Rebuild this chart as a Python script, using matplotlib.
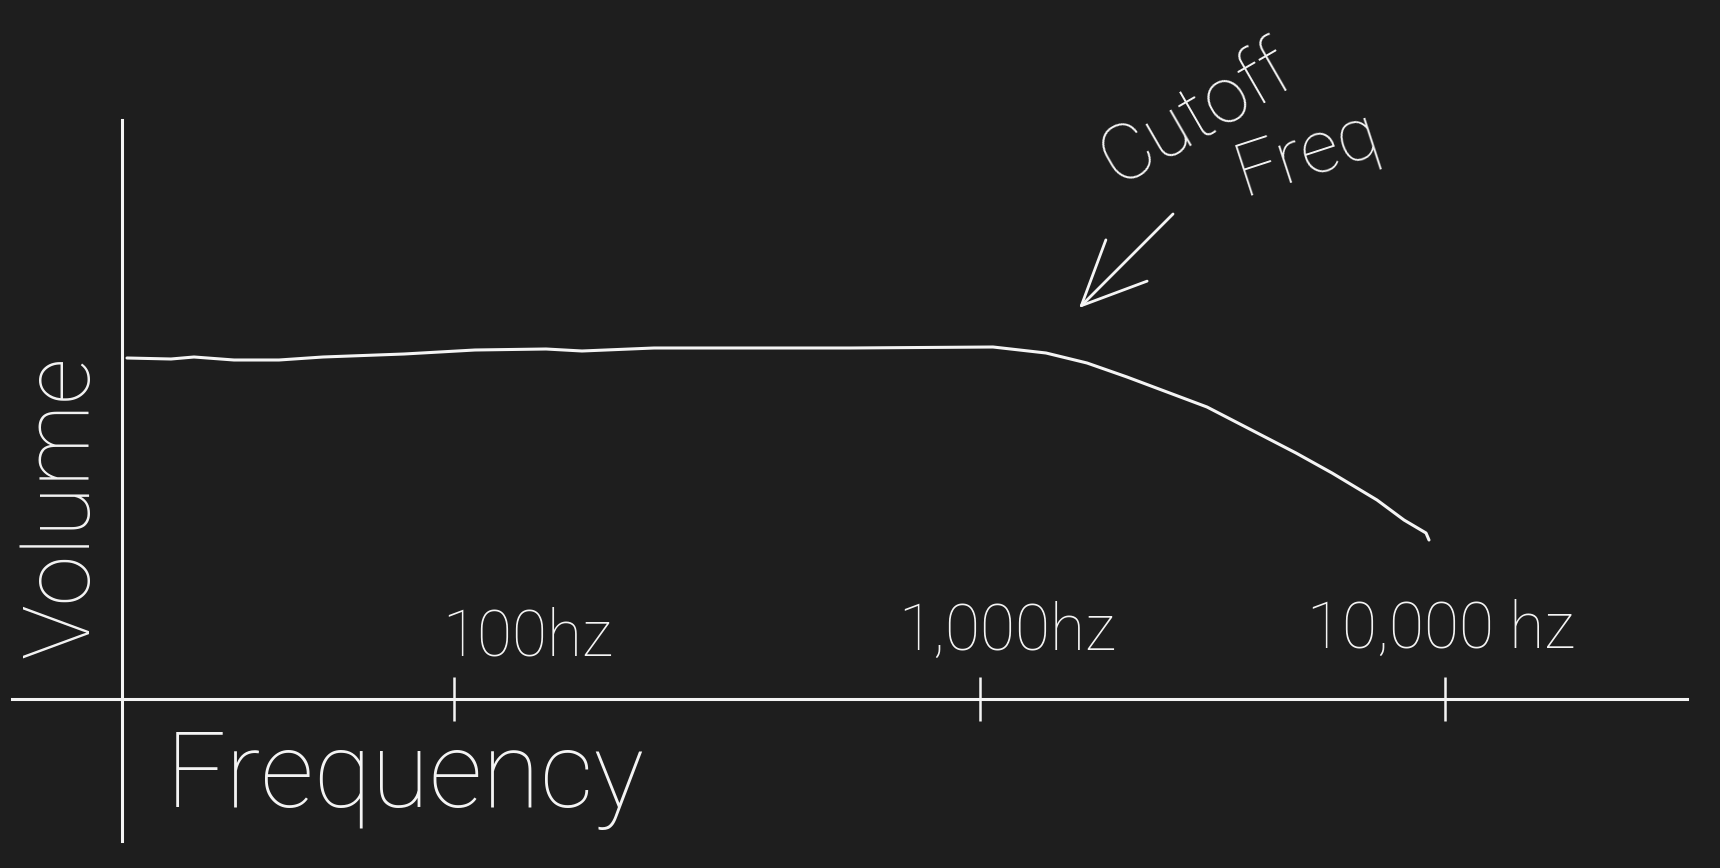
import numpy as np
import matplotlib
matplotlib.use("Agg")
import matplotlib.pyplot as plt

curva_x = [5, 49, 72, 112, 157, 201, 282, 353, 424, 460, 532, 728, 871, 924,
           965, 1005, 1085, 1174, 1210, 1255, 1282, 1304, 1307]
curva_volumen = [341, 340, 342, 339, 339, 342, 345, 349, 350, 348, 351, 351,
                 352, 346, 336, 322, 292, 246, 226, 199, 179, 166, 159]

ticks_x = [332, 858, 1323]
etiquetas_ticks = ["100hz", "1,000hz", "10,000 hz"]

FONDO = "#1e1e1e"
TINTA = "#f4f4f4"
fuente = ["Roboto", "Open Sans", "DejaVu Sans"]

fig = plt.figure(figsize=(17.2, 8.68), dpi=100, facecolor=FONDO)
ax = fig.add_axes([0, 0, 1, 1])
ax.set_facecolor(FONDO)
ax.set_xlim(-122, 1598)
ax.set_ylim(-169, 699)

# Ejes dibujados como spines que cruzan en el origen
for lado in ["top", "right"]:
    ax.spines[lado].set_visible(False)
ax.spines["left"].set_position(("data", 0))
ax.spines["bottom"].set_position(("data", 0))
ax.spines["left"].set_bounds(-142, 579)
ax.spines["bottom"].set_bounds(-110, 1565)
for lado in ["left", "bottom"]:
    ax.spines[lado].set_color(TINTA)
    ax.spines[lado].set_linewidth(2.2)

ax.set_yticks([])
ax.set_xticks(ticks_x)
ax.set_xticklabels([])
ax.tick_params(axis="x", direction="inout", length=32, width=1.8, color=TINTA)

# Curva de respuesta del filtro
ax.plot(curva_x, curva_volumen, color=TINTA, lw=2.2, solid_capstyle="round")

# Etiquetas de frecuencia encima del eje
desplazamientos = [-12, -82, -138]
alturas = [30, 36, 38]
for xt, texto, dx, h in zip(ticks_x, etiquetas_ticks, desplazamientos, alturas):
    ax.text(xt + dx, h, texto, color=TINTA, fontsize=46, family=fuente,
            fontweight="light", ha="left", va="bottom")

ax.text(44, -80, "Frequency", color=TINTA, fontsize=76, family=fuente,
        fontweight="light", ha="left", va="center")
ax.text(-59, 192, "Volume", color=TINTA, fontsize=66, family=fuente,
        fontweight="light", rotation=90, ha="center", va="center")

# Anotacion de la frecuencia de corte
ax.text(1075, 585, "Cutoff", color=TINTA, fontsize=56, family=fuente,
        fontweight="light", rotation=30, ha="center", va="center")
ax.text(1185, 545, "Freq", color=TINTA, fontsize=54, family=fuente,
        fontweight="light", rotation=18, ha="center", va="center")
ax.annotate("", xy=(955, 389), xytext=(1053, 487),
            arrowprops=dict(arrowstyle="->,head_length=4.6,head_width=2.1",
                            color=TINTA, lw=2.0))

plt.savefig("out.png", dpi=100, facecolor=FONDO)
